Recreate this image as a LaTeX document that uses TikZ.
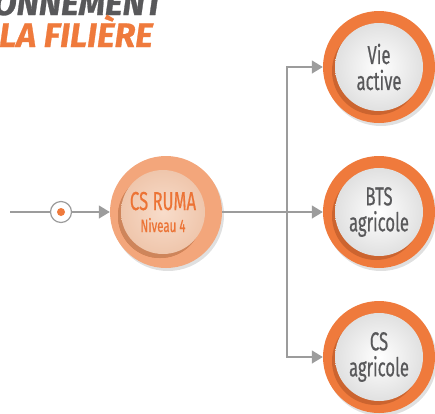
\documentclass[tikz,border=0pt]{standalone}
\usepackage{fontspec}
\setmainfont{Fira Sans}[FakeStretch=0.64, FakeBold=0.5]
\newfontfamily\titlefont{Fira Sans}[FakeBold=0.8]
\usetikzlibrary{arrows.meta,shadows,positioning}
\definecolor{ringorange}{HTML}{EF7A3C}
\definecolor{ringdark}{HTML}{C9622E}
\definecolor{peach}{HTML}{F3A67B}
\definecolor{peachlight}{HTML}{F8DCCA}
\definecolor{peachmid}{HTML}{EFC6AC}
\definecolor{peachdark}{HTML}{CF8960}
\definecolor{linegrey}{HTML}{9C9C9C}
\definecolor{textgrey}{HTML}{58585A}
\definecolor{rumaorange}{HTML}{EC7335}

\begin{document}
\begin{tikzpicture}[x=1pt, y=-1pt,
  ring/.style={circle, minimum size=112pt, inner sep=0pt, fill=ringorange,
    drop shadow={shadow xshift=2pt, shadow yshift=-3pt, fill=black, opacity=0.12}},
  disc/.style={circle, minimum size=88pt, inner sep=0pt, align=center,
    font=\fontsize{26}{26}\selectfont, text=textgrey, inner color=white, outer color=black!12,
    drop shadow={shadow xshift=-3pt, shadow yshift=-4pt, fill=ringdark, opacity=0.9}},
  title/.style={anchor=base east, inner sep=0pt, font=\titlefont\bfseries\itshape\fontsize{34}{34}\selectfont},
  link/.style={draw=linegrey, line width=1.3pt},
  arrow/.style={link, -{Triangle[length=11pt, width=13pt]}}]
  \useasboundingbox (0,0) rectangle (435,413);
  \clip (0,0) rectangle (435,413);

  \node[title, text=textgrey] (title1) at (163,15) {ONNEMENT};
  \node[title, text=ringorange] (title2) at (153,47) {LA FILIÈRE};

  \coordinate (start) at (10,212);
  \node[circle, draw=linegrey, line width=1.2pt, fill=white, minimum size=21pt, inner sep=0pt] (entry) at (61,212) {};
  \fill[ringorange] (entry) circle (4pt);

  \node[ring, fill=peach] (ruma) at (166,212) {};
  \node[disc, minimum size=84pt, text=rumaorange, inner color=peachlight, outer color=peachmid,
    drop shadow={shadow xshift=-3pt, shadow yshift=-4pt, fill=peachdark, opacity=0.9}] (rumatext) at (163,212)
    {CS RUMA\\[-4pt]{\fontsize{18}{18}\selectfont Niveau 4}};

  \node[ring] (vie) at (379,67) {};
  \node[disc] (vietext) at (vie) {Vie\\active};
  \node[ring] (bts) at (379,212) {};
  \node[disc] (btstext) at (bts) {BTS\\agricole};
  \node[ring] (csa) at (379,357) {};
  \node[disc] (csatext) at (csa) {CS\\agricole};

  \coordinate (split) at (287,212);
  \draw[link] (start) -- (entry);
  \draw[arrow] (entry) -- (ruma);
  \draw[link] (ruma) -- (split);
  \draw[arrow] (split) |- (vie);
  \draw[arrow] (split) -- (bts);
  \draw[arrow] (split) |- (csa);
\end{tikzpicture}
\end{document}
